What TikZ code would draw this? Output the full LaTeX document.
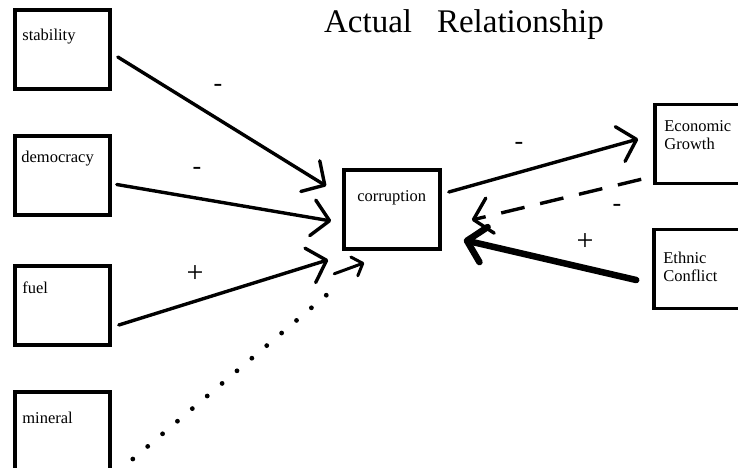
\documentclass[tikz,border=0pt]{standalone}
\usepackage{fontspec}
\setmainfont{Liberation Serif}
\usetikzlibrary{arrows.meta,calc}
\tikzset{
  box/.style={draw=black, line width=3.6pt, minimum width=95pt, minimum height=79pt, inner sep=0pt},
  boxtext/.style={anchor=base west, font=\fontsize{16.5}{18}\selectfont, inner sep=0pt, align=left},
  conn/.style={line width=3.4pt, line cap=round, -{Straight Barb[length=17pt,width=36pt,line cap=round,round]}},
  dotline/.style={line width=4.8pt, line cap=round, dash pattern=on 0pt off 19.5pt},
  sign/.style={font=\fontsize{26}{26}\selectfont, inner sep=0pt},
  plus/.style={font=\fontsize{30}{30}\selectfont, inner sep=0pt},
}
\begin{document}
\begin{tikzpicture}[x=1pt,y=-1pt]
\useasboundingbox (0,0) rectangle (738,467);

\node[anchor=base, font=\fontsize{33}{36}\selectfont, inner sep=0pt] (title) at (464,32) {Actual\hspace{25pt}Relationship};

\node[box] (stab) at (62.5,49.5) {};
\node[box] (demo) at (62.5,175.5) {};
\node[box] (fuel) at (62.5,305.5) {};
\node[box] (mine) at (62.5,431.5) {};
\node[box, minimum width=96pt] (corr) at (392,209.5) {};
\node[box] (econ) at (702.5,144) {};
\node[box] (ethn) at (701.5,269) {};

\node[boxtext] (stabt) at ($(stab.north west)+(9,32)$) {stability};
\node[boxtext] (demot) at ($(demo.north west)+(8,28)$) {democracy};
\node[boxtext] (fuelt) at ($(fuel.north west)+(9,29)$) {fuel};
\node[boxtext] (minet) at ($(mine.north west)+(9,33)$) {mineral};
\node[boxtext] (corrt) at ($(corr.north west)+(15,33)$) {corruption};
\node[boxtext] (econt) at ($(econ.north west)+(11,47)$) {Economic\\Growth};
\node[boxtext] (ethnt) at ($(ethn.north west)+(11,54)$) {Ethnic\\Conflict};

% connectors
\draw[conn] ($(stab.east)+(6,7.5)$) -- ($(corr.west)+(-16,-23.5)$);
\draw[conn] ($(demo.east)+(5,9)$) -- ($(corr.west)+(-11,11.5)$);
\draw[conn] ($(fuel.east)+(7,19.5)$) -- ($(corr.south west)+(-14,9)$);
\draw[dotline] ($(mine.east)+(21,27.5)$) -- ($(corr.south west)+(-6,36)$);
\draw[line width=3pt, line cap=round, -{Straight Barb[length=9pt,width=20pt,line cap=round,round]}] ($(corr.south west)+(-8,23)$) -- ($(corr.south west)+(22,12)$);
\draw[conn] ($(corr.east)+(7,-17.5)$) -- ($(econ.west)+(-15,-5)$);
\draw[conn, dash pattern=on 24pt off 16pt, line cap=butt] ($(econ.south west)+(-12,-6)$) -- ($(corr.east)+(30,10.5)$);
\draw[conn, line width=6.5pt] ($(ethn.west)+(-16,11)$) -- ($(corr.east)+(22,30.5)$);

% signs
\node[sign] (s1) at (218,88) {-};
\node[sign] (s2) at (197,171) {-};
\node[plus] (s3) at (195,274) {+};
\node[sign] (s4) at (519,146) {-};
\node[sign] (s5) at (617,208) {-};
\node[plus] (s6) at (585,242) {+};
\end{tikzpicture}
\end{document}
